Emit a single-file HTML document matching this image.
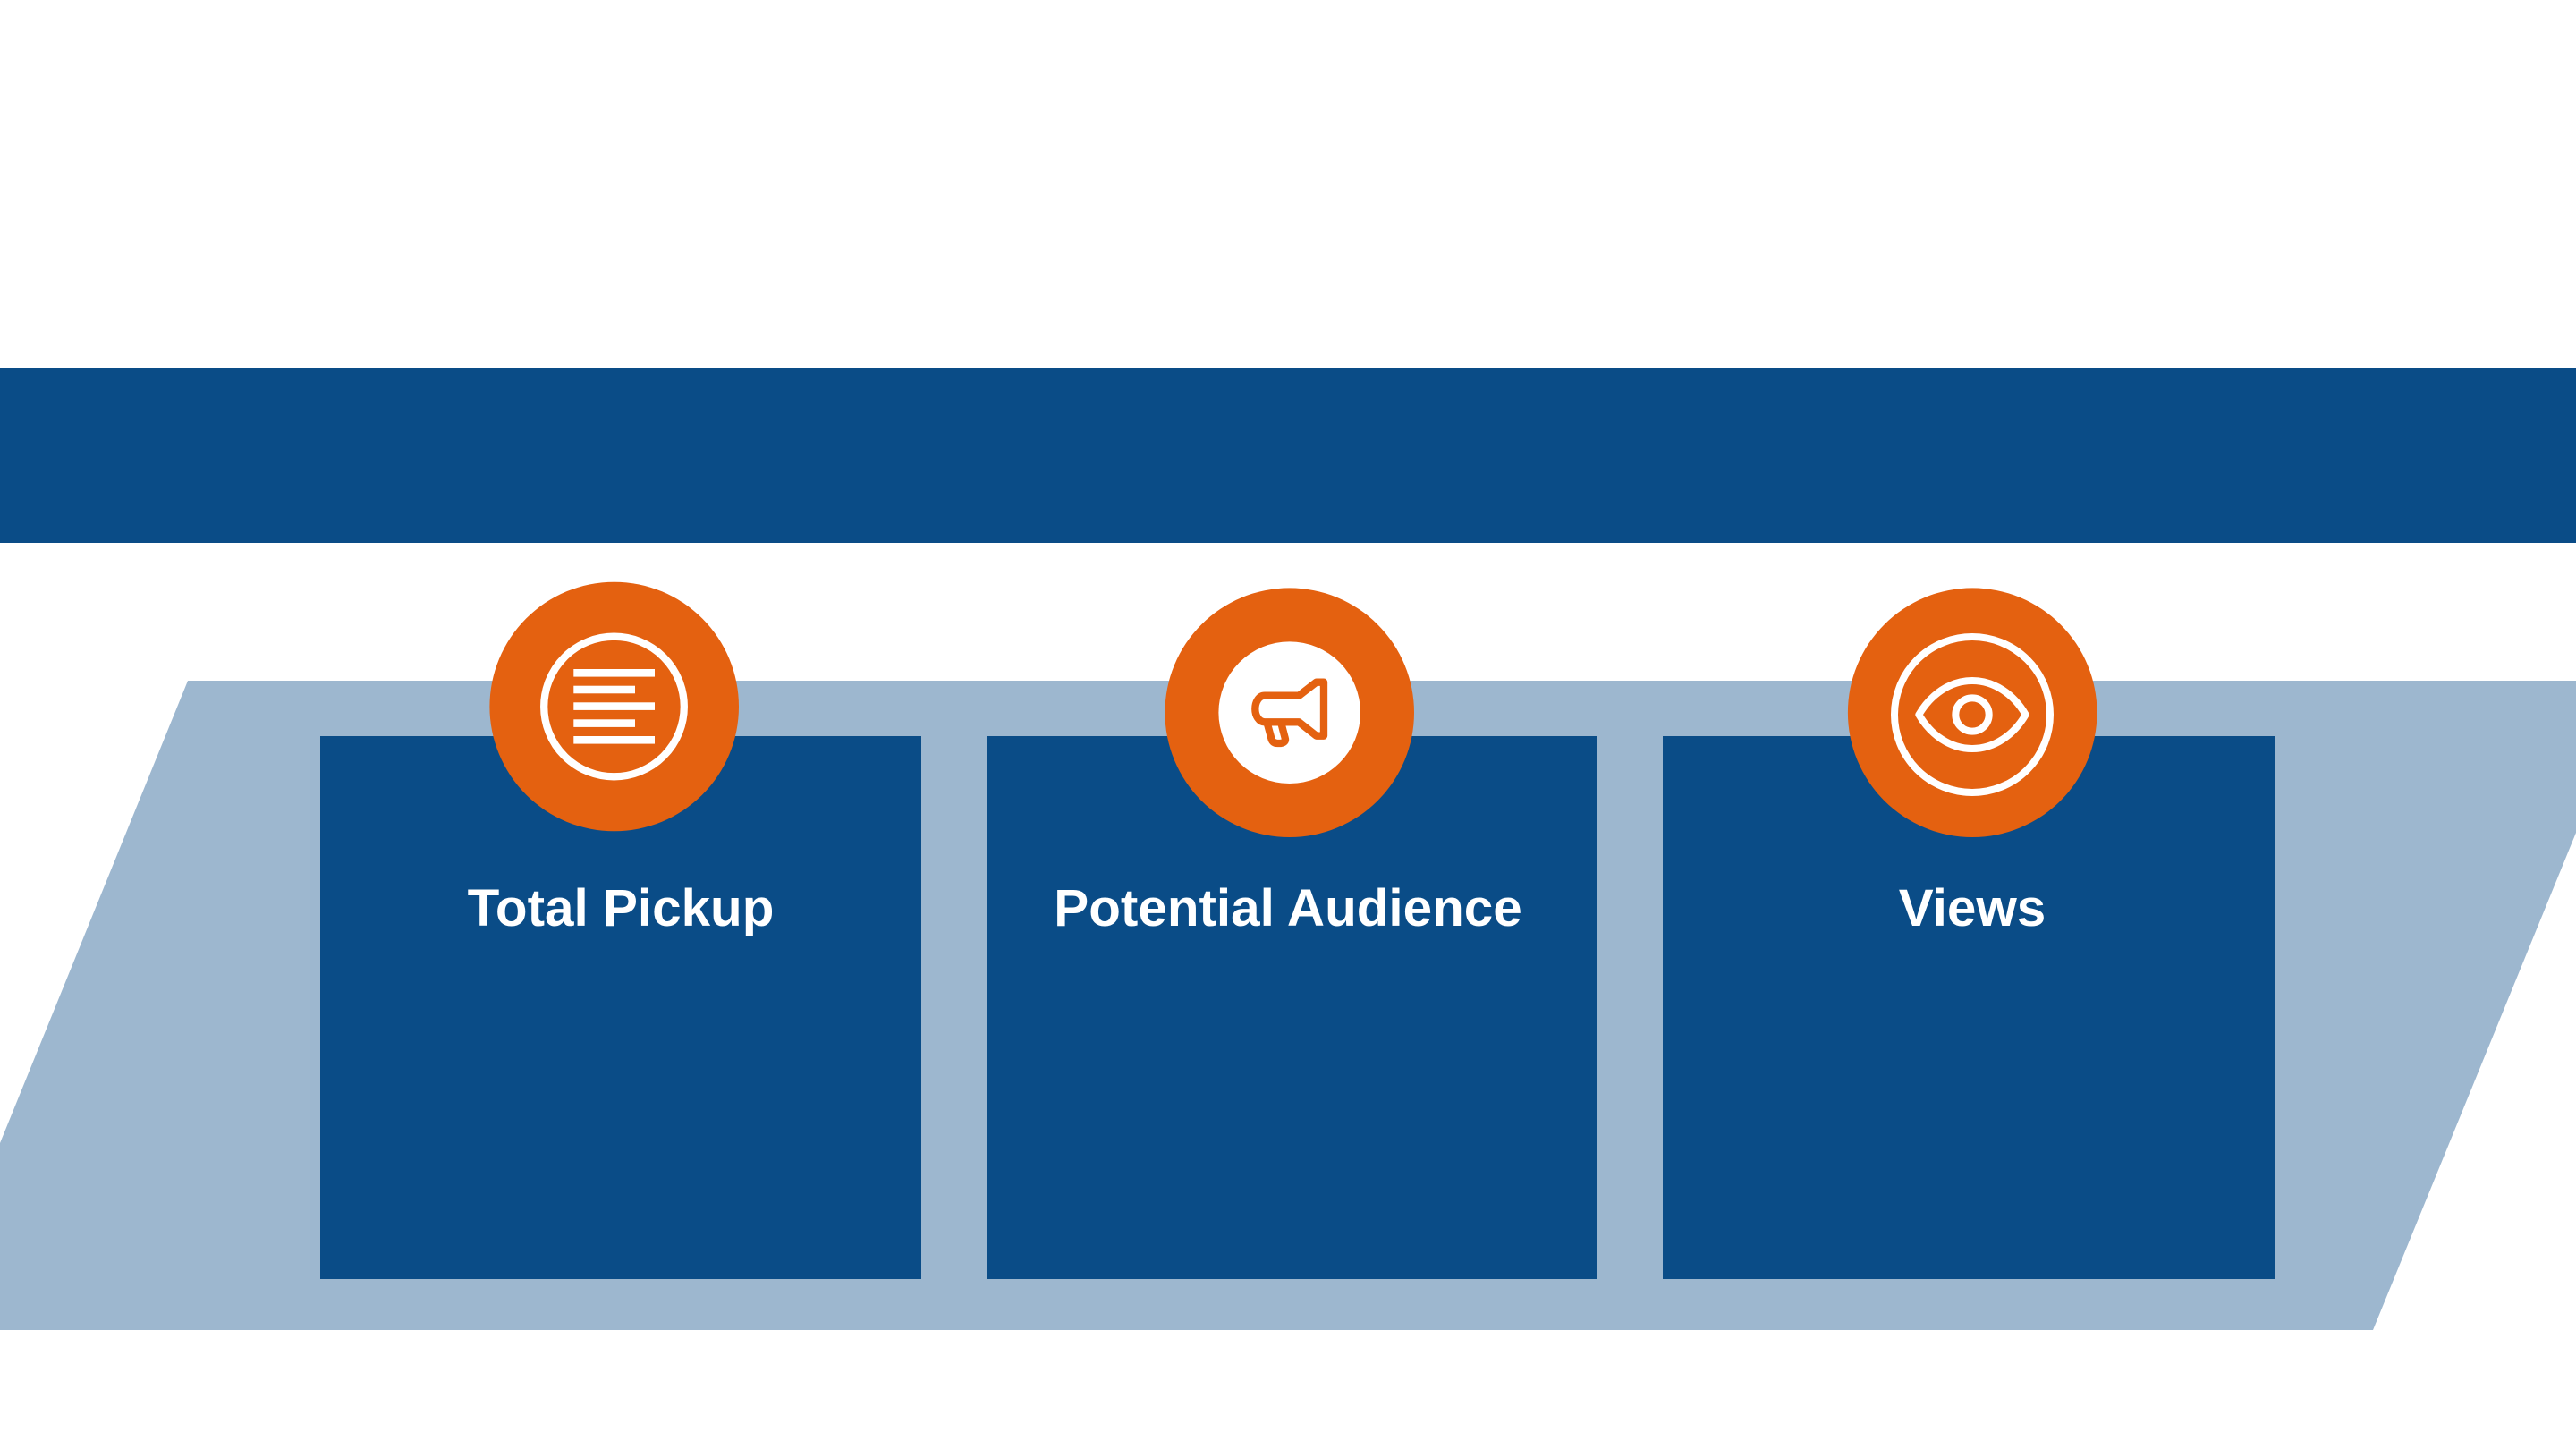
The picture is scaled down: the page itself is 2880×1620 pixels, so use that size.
<!DOCTYPE html>
<html>
<head>
<meta charset="utf-8">
<style>
html,body{margin:0;padding:0;width:2880px;height:1620px;background:#fff;overflow:hidden}
svg{display:block}
text{font-family:"Liberation Sans",Arial,sans-serif;font-weight:700;font-size:58.4px;fill:#fff}
</style>
</head>
<body>
<svg width="2880" height="1620" viewBox="0 0 2880 1620" xmlns="http://www.w3.org/2000/svg">
<rect width="2880" height="1620" fill="#fff"/>
<rect x="0" y="411" width="2880" height="196" fill="#0A4C87"/>
<polygon points="210,761 2880,761 2880,931 2653,1487 0,1487 0,1278" fill="#9DB7CF"/>
<rect x="358" y="823" width="672" height="607" fill="#0A4C87"/>
<rect x="1103" y="823" width="682" height="607" fill="#0A4C87"/>
<rect x="1859" y="823" width="684" height="607" fill="#0A4C87"/>

<circle cx="686.7" cy="790" r="139.3" fill="#E46110"/>
<circle cx="686.5" cy="790" r="78.3" fill="none" stroke="#fff" stroke-width="8.3"/>
<g fill="#fff">
<rect x="641.3" y="748" width="90.7" height="8.6"/>
<rect x="641.3" y="766.7" width="68.7" height="8.6"/>
<rect x="641.3" y="785.3" width="90.7" height="8.6"/>
<rect x="641.3" y="804.3" width="68.7" height="8.6"/>
<rect x="641.3" y="823" width="90.7" height="8.6"/>
</g>

<circle cx="1441.7" cy="796.7" r="139.3" fill="#E46110"/>
<circle cx="1441.7" cy="796.7" r="79.3" fill="#fff"/>
<g transform="translate(1280 630) scale(0.33333)" fill="none" stroke="#E46110" stroke-width="25" stroke-linejoin="round" stroke-linecap="round">
<path d="M402,443 L517,443 L575,398 L600,398 L600,578 L575,578 L517,532 L402,532 C382,532 370,510 370,488 C370,465 382,443 402,443 Z"/>
<path d="M410,535 L425,590 Q430,603 445,603 L455,603 Q475,600 470,585 L457,535"/>
</g>

<circle cx="2205.2" cy="796.7" r="139.3" fill="#E46110"/>
<g transform="translate(2040 630) scale(0.33333)" fill="none" stroke="#fff" stroke-width="24">
<circle cx="495" cy="507" r="261"/>
<path d="M316,507 C355,440 420,393 495,393 C570,393 635,440 674,507 C635,574 570,621 495,621 C420,621 355,574 316,507 Z" stroke-linejoin="round"/>
<circle cx="495" cy="507" r="56"/>
</g>

<text x="694" y="1035" text-anchor="middle">Total Pickup</text>
<text x="1440" y="1035" text-anchor="middle">Potential Audience</text>
<text x="2205" y="1035" text-anchor="middle">Views</text>
</svg>
</body>
</html>
